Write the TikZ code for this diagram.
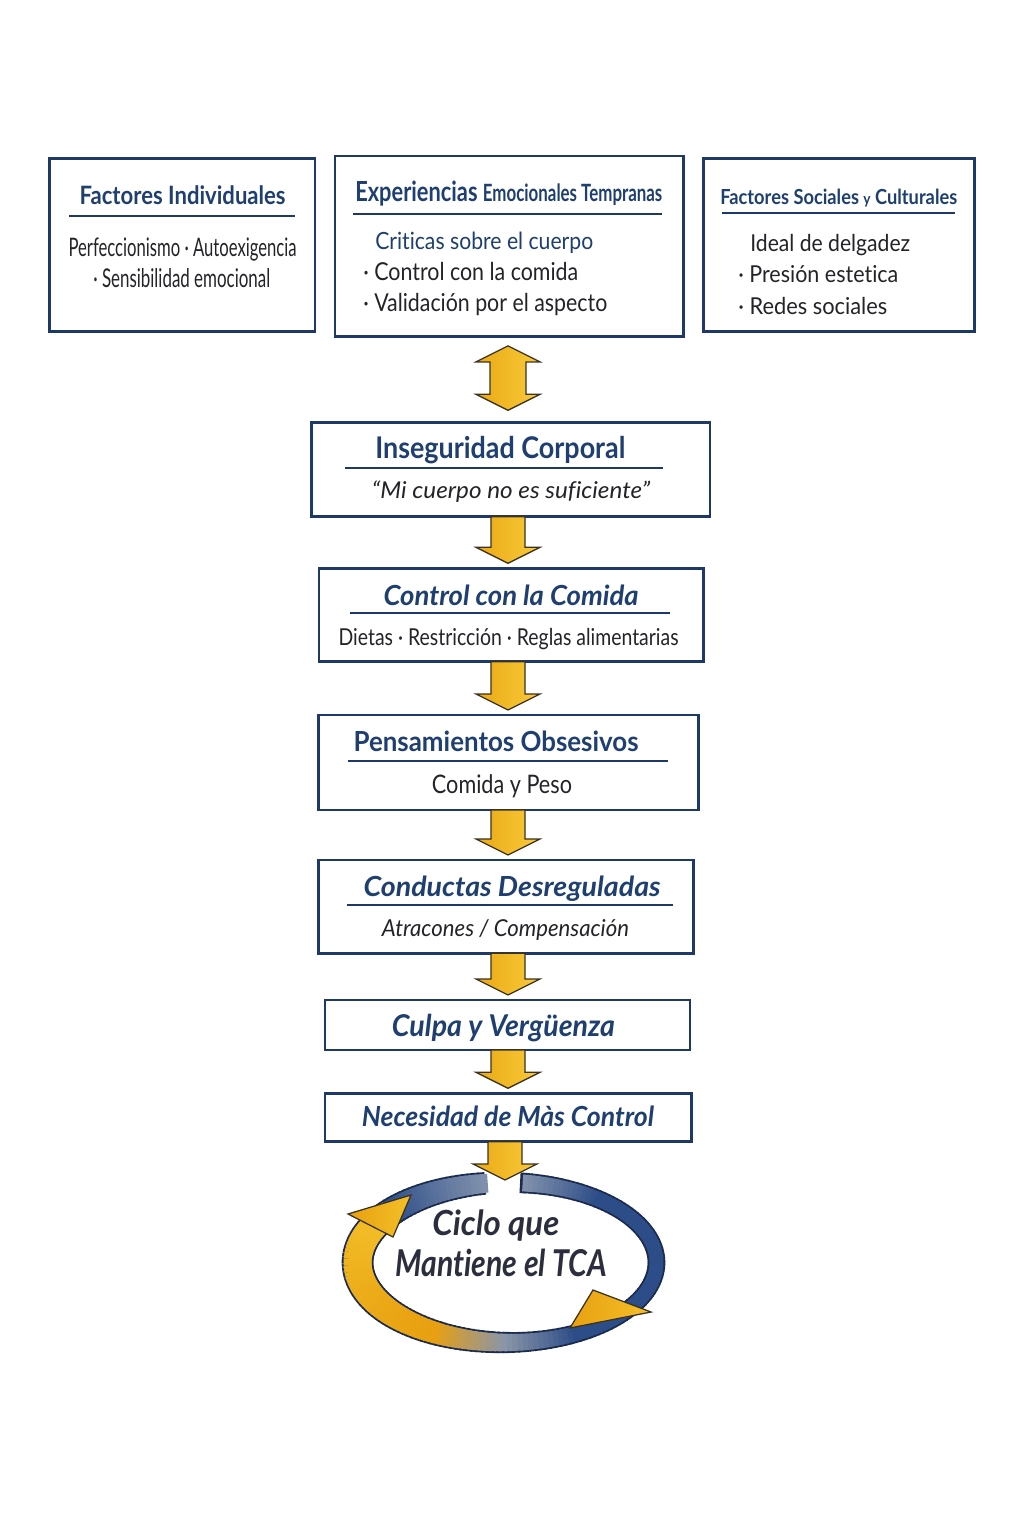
\documentclass[tikz,border=0pt]{standalone}
\usepackage{fontspec}
\setmainfont{Lato}[Ligatures={NoCommon}]
\usepackage{graphicx}
\usetikzlibrary{calc}
\newlength\pxl \setlength\pxl{0.025cm}
\newcommand{\tx}[3]{\resizebox{#1\pxl}{#2\pxl}{\vphantom{H}\smash{#3}}}
\definecolor{navy}{HTML}{1E3868}
\definecolor{titleblue}{HTML}{1F3F70}
\definecolor{bodyc}{HTML}{232328}
\definecolor{ringtext}{HTML}{2B2E3C}
\definecolor{arrL}{HTML}{EBA915}
\definecolor{arrR}{HTML}{F8CA3A}
\definecolor{arrEdge}{HTML}{3B3320}
\definecolor{bD}{HTML}{2C4D88}
\definecolor{bL}{HTML}{8090AC}
\definecolor{bM}{HTML}{8A95A8}
\definecolor{yD}{HTML}{E8A010}
\definecolor{yL}{HTML}{F4C02A}
\definecolor{ringedge}{HTML}{1B2B4D}
\tikzset{
 box/.style={draw=navy, line width=1.8pt, fill=white, inner sep=0pt, outer sep=0pt, anchor=north west},
 ttl/.style={text=titleblue, inner sep=0pt, anchor=base west, font=\bfseries},
 bdy/.style={text=bodyc, inner sep=0pt, anchor=base west},
 uline/.style={draw=navy, line width=1.3pt},
 arr/.style={left color=arrL, right color=arrR, draw=arrEdge, line width=0.9pt, line join=miter},
 ringarr/.style={left color=yD, right color=yL, draw=arrEdge, line width=0.9pt, line join=miter},
}
\newcommand{\boxnode}[5]{\node[box, minimum width={(#4-#2)*\pxl}, minimum height={(#5-#3)*\pxl}] (#1) at (#2,#3) {};}
\newcommand{\flowarr}[2]{%
 \shadedraw[arr] let \p1=#1, \p2=#2 in
  (\x1-0.425cm,\y1) -- (\x1+0.425cm,\y1) -- (\x1+0.425cm,\y2+0.525cm) -- (\x1+0.8cm,\y2+0.525cm)
  -- (\x1,\y2+0.125cm) -- (\x1-0.8cm,\y2+0.525cm) -- (\x1-0.425cm,\y2+0.525cm) -- cycle;}
\def\cx{507}\def\cy{1262.5}\def\rx{149.5}\def\ry{80}
\newcommand{\ringseg}[3]{%
 \pgfmathsetmacro\rw{(14+14*((1-cos(#1))/2)^2)*0.7113+#2}%
 \pgfmathsetmacro\ea{#1+2.6}%
 \draw[line width=\rw pt, #3] ({\cx+\rx*cos(#1)},{\cy+\ry*sin(#1)}) arc[start angle=#1, end angle=\ea, x radius=\rx, y radius=\ry];}
\begin{document}
\begin{tikzpicture}[x=0.025cm, y=-0.025cm]
\fill[white] (0,0) rectangle (1024,1536);
\useasboundingbox (0,0) rectangle (1024,1536);
\coordinate (ax) at (508,0);
\coordinate (ax2) at (505,0);
\coordinate (ringtop) at (505,1185);

% top boxes
\boxnode{fi}{49.3}{158.3}{315}{331.7}
\boxnode{exp}{335}{156}{683.3}{336.7}
\boxnode{fs}{703.3}{158.3}{974.3}{331.7}
\node[ttl] (fi-t) at (79.3,205) {\tx{206}{18.3}{Factores Individuales}};
\draw[uline] (69,216) -- (295,216);
\node[bdy] (fi-b1) at (68.3,256.7) {\tx{228}{18.3}{Perfeccionismo · Autoexigencia}};
\node[bdy] (fi-b2) at (93,288) {\tx{177}{18.5}{· Sensibilidad emocional}};

\node[ttl] (exp-t) at (355,201.7) {\tx{307}{20}{Experiencias \scalebox{0.9}[1]{\fontsize{8.6}{10}\selectfont Emocionales Tempranas}}};
\draw[uline] (353,214) -- (662,214);
\node[bdy, text=titleblue] (exp-b1) at (375,250) {\tx{218}{17}{Criticas sobre el cuerpo}};
\node[bdy] (exp-b2) at (363,280.7) {\tx{215}{17.7}{· Control con la comida}};
\node[bdy] (exp-b3) at (363,311.7) {\tx{244}{17.7}{· Validación por el aspecto}};

\node[ttl] (fs-t) at (720,205) {\tx{237}{15}{Factores Sociales {\fontsize{7.5}{9}\selectfont y} Culturales}};
\draw[uline] (722,213) -- (955,213);
\node[bdy] (fs-b1) at (750,251.7) {\tx{160}{16.7}{Ideal de delgadez}};
\node[bdy] (fs-b2) at (738,283) {\tx{160}{16.7}{· Presión estetica}};
\node[bdy] (fs-b3) at (738,315) {\tx{149}{16.7}{· Redes sociales}};

% main chain
\boxnode{ins}{311.7}{422.3}{710}{516.7}
\boxnode{ctrl}{319}{568.3}{703.3}{661.7}
\boxnode{pens}{318.3}{715}{698.3}{810}
\boxnode{cond}{318.3}{860}{693.3}{953.3}
\boxnode{culpa}{325}{1000}{690}{1050}
\boxnode{nec}{325}{1093.3}{691.7}{1141.7}

\node[ttl] (ins-t) at (375,458.3) {\tx{250}{21.6}{Inseguridad Corporal}};
\draw[uline] (345,467.7) -- (663,467.7);
\node[bdy, font=\itshape] (ins-b) at (371.7,498.3) {\tx{278}{16.6}{“Mi cuerpo no es suficiente”}};

\node[ttl, font=\bfseries\itshape] (ctrl-t) at (383.3,605) {\tx{255}{20}{Control con la Comida}};
\draw[uline] (350,613.3) -- (670,613.3);
\node[bdy] (ctrl-b) at (338.3,645) {\tx{340}{16.7}{Dietas · Restricción · Reglas alimentarias}};

\node[ttl] (pens-t) at (353.3,751.7) {\tx{285}{20}{Pensamientos Obsesivos}};
\draw[uline] (348,761) -- (668,761);
\node[bdy] (pens-b) at (431.7,793.3) {\tx{140}{18.3}{Comida y Peso}};

\node[ttl, font=\bfseries\itshape] (cond-t) at (363.3,896.7) {\tx{297}{20}{Conductas Desreguladas}};
\draw[uline] (347,905) -- (673,905);
\node[bdy, font=\itshape] (cond-b) at (381.7,936.7) {\tx{247}{16.7}{Atracones / Compensación}};

\node[ttl, font=\bfseries\itshape] (culpa-t) at (391.7,1036.7) {\tx{223}{21.7}{Culpa y Vergüenza}};
\node[ttl, font=\bfseries\itshape] (nec-t) at (361.7,1126.7) {\tx{292}{20}{Necesidad de Màs Control}};

% arrows
\shadedraw[arr] let \p1=(exp.south -| ax), \p2=(ins.north -| ax) in
  (\x1,\y1-0.23cm) -- (\x1+0.8cm,\y1-0.63cm) -- (\x1+0.45cm,\y1-0.63cm) -- (\x1+0.45cm,\y2+0.7cm)
  -- (\x1+0.8cm,\y2+0.7cm) -- (\x1,\y2+0.3cm) -- (\x1-0.8cm,\y2+0.7cm) -- (\x1-0.45cm,\y2+0.7cm)
  -- (\x1-0.45cm,\y1-0.63cm) -- (\x1-0.8cm,\y1-0.63cm) -- cycle;
\flowarr{(ins.south -| ax)}{(ctrl.north -| ax)}
\flowarr{(ctrl.south -| ax)}{(pens.north -| ax)}
\flowarr{(pens.south -| ax)}{(cond.north -| ax)}
\flowarr{(cond.south -| ax)}{(culpa.north -| ax)}
\flowarr{(culpa.south -| ax)}{(nec.north -| ax)}

% ring
\foreach \a in {-85,-83,...,260} {\ringseg{\a}{2.6pt}{ringedge}}
\foreach \a in {-84,-82,...,60} {\pgfmathsetmacro\rmix{min(100,(\a+84)*100/30)}\ringseg{\a}{0pt}{color=bD!\rmix!bL}}
\foreach \a in {62,64,...,88} {\pgfmathsetmacro\rmix{(\a-62)*100/28}\ringseg{\a}{0pt}{color=bM!\rmix!bD}}
\foreach \a in {90,92,...,118} {\pgfmathsetmacro\rmix{(\a-90)*100/28}\ringseg{\a}{0pt}{color=yD!\rmix!bM}}
\foreach \a in {120,122,...,216} {\pgfmathsetmacro\rmix{(\a-120)*100/96}\ringseg{\a}{0pt}{color=yL!\rmix!yD}}
\foreach \a in {218,220,...,260} {\pgfmathsetmacro\rmix{(\a-218)*100/42}\ringseg{\a}{0pt}{color=bL!\rmix!bD}}
\shadedraw[ringarr] (348,1214) -- (411,1195) -- (393,1237) -- cycle;
\shadedraw[ringarr] (593,1290) -- (651,1312) -- (570,1328) -- cycle;
\flowarr{(nec.south -| ax2)}{(ringtop)}
\node[bdy, text=ringtext, font=\bfseries\itshape] (cyc1) at (432,1235) {\tx{127}{25}{Ciclo que}};
\node[bdy, text=ringtext, font=\bfseries\itshape] (cyc2) at (395,1276.7) {\tx{212}{26.7}{Mantiene el TCA}};
\end{tikzpicture}
\end{document}
